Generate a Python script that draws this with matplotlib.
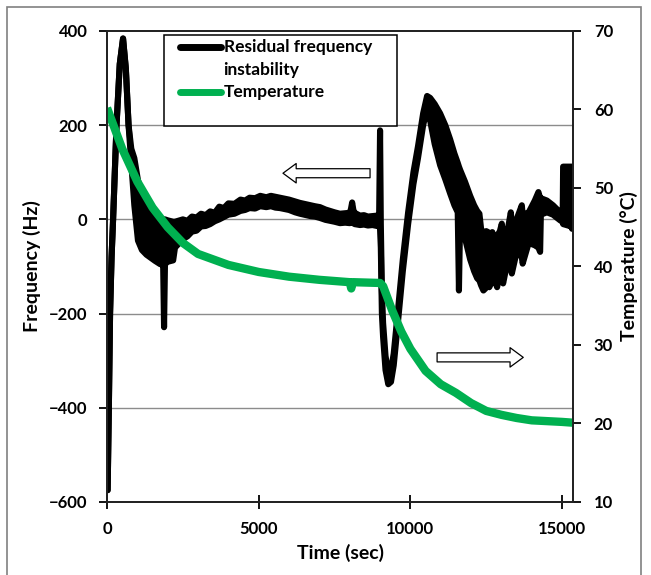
import numpy as np
import matplotlib.pyplot as plt
from matplotlib.patches import Rectangle
from matplotlib.lines import Line2D

plt.rcParams['font.family'] = ['Lato', 'DejaVu Sans']
plt.rcParams['font.weight'] = 'bold'

freq_t = [20, 60, 100, 150, 200, 313, 420, 528, 620, 710, 800, 900, 1020, 1150, 1300,
          1450, 1580, 1750, 1850, 1880, 1910, 2000, 2180, 2240, 2500, 2650, 2800, 2950,
          3100, 3250, 3400, 3550, 3700, 3850, 4000, 4200, 4400, 4550, 4700, 4880, 5050,
          5250, 5400, 5550, 5700, 5850, 6000, 6200, 6360, 6500, 6700, 6850, 7020, 7200,
          7350, 7500, 7680, 7850, 8000, 8040, 8080, 8120, 8160, 8340, 8470, 8600, 8750,
          8900, 8970, 9000, 9025, 9060, 9100,
          9180, 9270, 9360, 9450, 9580, 9750, 9925, 10100, 10250, 10420, 10550, 10650,
          10800, 10980, 11150, 11310, 11450, 11560, 11600, 11640, 11800, 11970, 12100,
          12200, 12275, 12330, 12407, 12500, 12560, 12600, 12700, 12760, 12858, 12950,
          13013, 13056, 13200, 13310, 13343, 13500, 13673, 13700, 13900, 14100, 14220,
          14276, 14300, 14500, 14700, 14935, 15020, 15034, 15300, 15331, 15360]
freq_lo = [-575, -400, -200, -80, 0, 200, 330, 384, 320, 200, 120, 30, -45, -65, -75,
           -82, -88, -95, -95, -229, -95, -90, -87, -60, -42, -36, -26, -24,
           -15, -14, -10, -4, 0, 5, 10, 12, 18, 20, 24, 23, 28,
           26, 28, 25, 24, 22, 20, 15, 12, 10, 7, 6, 3, -1,
           -3, -5, -8, -7, -8, -6, -6, -8, -10, -12, -11, -13, -12,
           -14, -14, -20, -60, -200, -250,
           -320, -350, -345, -310, -225, -110, -10, 75, 130, 200, 235, 210,
           160, 115, 85, 55, 30, 15, -151, 5, -40, -85, -110,
           -125, -130, -140, -151, -145, -140, -144, -130, -125, -144, -110,
           -120, -136, -90, -100, -115, -70, -80, -94, -50, -55, -60,
           -69, 10, 15, 10, -2, -5, -10, -15, -20, -20]
freq_hi = [-575, -400, -200, -80, 0, 200, 330, 384, 320, 200, 150, 130, 83, 55, 35,
           18, 10, 2, 0, 0, 0, -2, -5, -5, 0, -3, 6, 4,
           12, 9, 17, 14, 27, 24, 34, 33, 42, 40, 46, 45, 50,
           47, 50, 48, 46, 44, 42, 38, 35, 33, 30, 28, 26, 21,
           18, 15, 12, 13, 14, 22, 36, 20, 14, 8, 9, 6, 7,
           8, 10, 189, -10, -150, -220,
           -290, -325, -320, -285, -200, -85, 15, 100, 155, 225, 262, 258,
           245, 225, 200, 170, 140, 120, 112, 105, 80, 50, 30,
           18, 12, -20, -30, -25, -27, -40, -27, -45, -35, -25,
           -9, -35, -25, 15, -10, 0, 30, 10, 15, 40, 58,
           45, 45, 40, 30, 15, 10, 112, 112, 112, 100]

# temperature
temp_t = [0, 500, 1000, 1500, 2000, 2500, 3000, 4000, 5000, 6000, 7000, 8000, 8050,
          8100, 9000, 9100, 9400, 9700, 10000, 10500, 11000, 11500, 12000, 12500,
          13000, 13500, 14000, 14500, 15000, 15350]
temp_c = [60.2, 55.0, 50.8, 47.5, 45.0, 43.0, 41.6, 40.2, 39.3, 38.7, 38.3, 38.0, 37.2,
          38.0, 37.9, 37.5, 34.4, 31.7, 29.5, 26.7, 25.0, 23.9, 22.6, 21.6,
          21.1, 20.7, 20.4, 20.3, 20.2, 20.1]

fig = plt.figure(figsize=(6.51, 5.75), dpi=100)
ax = fig.add_axes([0.1644, 0.127, 0.7158, 0.8191])
ax2 = ax.twinx()

for g in [200, 0, -200, -400]:
    ax.axhline(g, color='#8c8c8c', lw=1, zorder=0)

ax.fill_between(freq_t, freq_lo, freq_hi, color='black', lw=0, zorder=2)
ax.plot(freq_t, freq_lo, color='black', lw=4.4, solid_joinstyle='round', solid_capstyle='round', zorder=2)
ax.plot(freq_t, freq_hi, color='black', lw=4.4, solid_joinstyle='round', solid_capstyle='round', zorder=2)

ax2.plot(temp_t, temp_c, color='#00B050', lw=6, solid_capstyle='butt')

# hollow arrows showing which axis each curve belongs to
arrow = dict(arrowstyle='simple,head_length=0.95,head_width=1.4,tail_width=0.65',
             fc='white', ec='black', lw=0.9, shrinkA=0, shrinkB=0, mutation_scale=10)
ax.annotate('', xy=(5800, 98), xytext=(8670, 98), arrowprops=arrow)
ax.annotate('', xy=(13720, -293), xytext=(10880, -293), arrowprops=arrow)

ax.set_xlim(0, 15360)
ax.set_ylim(-600, 400)
ax2.set_ylim(10, 70)
ax.set_xticks([0, 5000, 10000, 15000])
ax.set_yticks([-600, -400, -200, 0, 200, 400])
ax2.set_yticks([10, 20, 30, 40, 50, 60, 70])

ax.tick_params(axis='x', direction='inout', length=10, width=1.3, labelsize=12, pad=9)
ax.tick_params(axis='y', direction='out', length=6, width=1.3, labelsize=12, pad=8)
ax2.tick_params(axis='y', direction='out', length=6, width=1.3, labelsize=12, pad=9)
for a in (ax, ax2):
    for s in a.spines.values():
        s.set_linewidth(1.3)
        s.set_color('#222222')

ax.set_xlabel('Time (sec)', fontsize=14, fontweight='bold', labelpad=5)
ax.set_ylabel('Frequency (Hz)', fontsize=14, fontweight='bold', labelpad=6)
ax2.set_ylabel('Temperature (°C)', fontsize=14, fontweight='bold', labelpad=5)

# legend box
ax2.add_patch(Rectangle((0.122, 0.798), 0.5, 0.1935, transform=ax2.transAxes,
                        fc='white', ec='black', lw=1.1, zorder=5))
ax2.add_line(Line2D([0.157, 0.245], [0.966, 0.966], transform=ax2.transAxes,
                    color='black', lw=5, solid_capstyle='round', zorder=6))
ax2.add_line(Line2D([0.157, 0.245], [0.870, 0.870], transform=ax2.transAxes,
                    color='#00B050', lw=5, solid_capstyle='round', zorder=6))
ax2.text(0.250, 0.966, 'Residual frequency', transform=ax2.transAxes, fontsize=12.5,
         fontweight='bold', va='center', ha='left', zorder=7)
ax2.text(0.250, 0.917, 'instability', transform=ax2.transAxes, fontsize=12.5,
         fontweight='bold', va='center', ha='left', zorder=7)
ax2.text(0.250, 0.870, 'Temperature', transform=ax2.transAxes, fontsize=12.5,
         fontweight='bold', va='center', ha='left', zorder=7)

fig.patches.append(Rectangle((7/651, -0.01), 634/651, 1.0 - 7/575 + 0.01,
                             transform=fig.transFigure, fill=False, ec='#808080', lw=1.2))

plt.savefig('out.png', dpi=100)
